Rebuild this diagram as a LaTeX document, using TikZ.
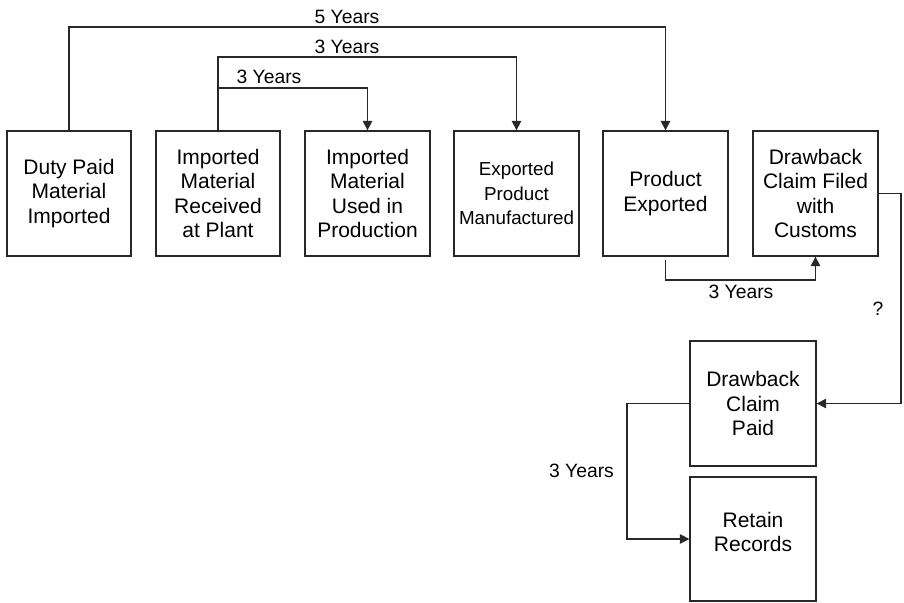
\documentclass[tikz,border=0pt]{standalone}
\usepackage{fontspec}
\setmainfont{Liberation Sans}
\usetikzlibrary{arrows.meta}
\definecolor{ink}{RGB}{40,40,40}
\begin{document}
\begin{tikzpicture}[x=1pt,y=-1pt,
  stagebox/.style={draw=ink,line width=1.3pt,minimum width=124pt,minimum height=125pt,
    inner sep=0pt,align=center,text=black,font=\fontsize{21}{24.5}\selectfont},
  smalltext/.style={font=\fontsize{18.8}{24.5}\selectfont},
  conn/.style={draw=ink,line width=1.3pt,-{Triangle[length=9.5pt,width=9.5pt]}},
  lbl/.style={text=black,font=\fontsize{19.3}{24}\selectfont,inner sep=0pt}]
\useasboundingbox (0,0) rectangle (904,602);

% process stages
\node[stagebox] (b1) at (69,193.5) {Duty Paid\\Material\\Imported};
\node[stagebox] (b2) at (218,193.5) {Imported\\Material\\Received\\at Plant};
\node[stagebox,minimum width=125pt] (b3) at (367.5,193.5) {Imported\\Material\\Used in\\Production};
\node[stagebox,smalltext,minimum width=125pt] (b4) at (516.5,193.5) {Exported\\Product\\Manufactured};
\node[stagebox,minimum width=125pt] (b5) at (665.5,193.5) {Product\\Exported};
\node[stagebox,minimum width=125pt] (b6) at (815.5,193.5) {Drawback\\Claim Filed\\with\\Customs};
\node[stagebox,minimum width=126pt] (b7) at (753,403.5) {Drawback\\Claim\\Paid};
\node[stagebox,minimum width=126pt,minimum height=124pt,
  label={[yshift=7pt,align=center,font=\fontsize{21}{24.5}\selectfont]center:Retain\\Records}]
  (b8) at (753,539) {};

% routing levels
\coordinate (lvA) at (0,27);
\coordinate (lvB) at (0,57);
\coordinate (lvC) at (0,88);
\coordinate (lvD) at (0,280);
\coordinate (colR) at (901,0);
\coordinate (colL) at (627,0);
\coordinate (split) at (b2.north |- lvC);

% time-limit connectors
\draw[conn] (b1.north) -- (b1.north |- lvA) -| (b5.north);
\draw[conn] (b2.north) -- (b2.north |- lvB) -| (b4.north);
\draw[conn] (split) -| (b3.north);
\draw[conn] ([yshift=-3pt]b5.south) -- (b5.south |- lvD) -| (b6.south);
\draw[conn] (b6.east) -| (colR |- b7.east) -- (b7.east);
\draw[conn] (b7.west) -| (colL |- b8.west) -- (b8.west);

% labels
\node[lbl] (l5) at (347,17) {5 Years};
\node[lbl] (l3a) at (347,47) {3 Years};
\node[lbl] (l3b) at (269,77) {3 Years};
\node[lbl] (l3c) at (741,292) {3 Years};
\node[lbl] (lq) at (878,309) {?};
\node[lbl] (l3d) at (581.5,471) {3 Years};
\end{tikzpicture}
\end{document}
